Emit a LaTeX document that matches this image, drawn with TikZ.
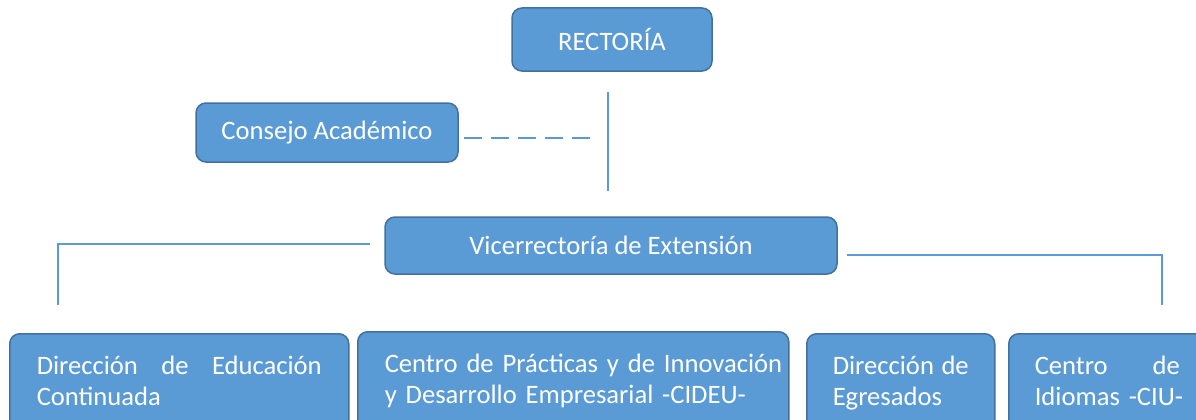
\documentclass[tikz,border=0pt]{standalone}
\usepackage{fontspec}
\setmainfont{Carlito}
\definecolor{boxfill}{HTML}{5B9BD5}
\definecolor{boxborder}{HTML}{41719C}
\definecolor{linkcol}{HTML}{5B9BD5}
\begin{document}
\begin{tikzpicture}[x=1pt,y=-1pt,
  box/.style={draw=boxborder, fill=boxfill, line width=1.5pt, rounded corners=10pt,
    text=white, font=\fontsize{26.6}{31}\selectfont, inner sep=0pt},
  lowbox/.style={box, anchor=north west, align=left, inner xsep=27pt, inner ysep=19.3pt},
  link/.style={draw=linkcol, line width=1.2pt},
  dashlink/.style={link, dash pattern=on 18pt off 9pt}]
\useasboundingbox (0,0) rectangle (1196,420);
\clip (0,0) rectangle (1196,420);
\fill[white] (0,0) rectangle (1196,420);

\node[box, minimum width=200pt, minimum height=63pt] (rect) at (612,39.5) {RECTORÍA};
\node[box, minimum width=262pt, minimum height=59pt] (cons) at (327,132.5) {Consejo Académico};
\node[box, minimum width=452pt, minimum height=57pt] (vice) at (611,245.5) {Vicerrectoría de Extensión};

\node[lowbox, text width=285pt] (dec) at (9,333)
  {\strut\hbox to 285pt{Dirección\hfill de\hfill Educación}\\\mbox{Continuada}\rule[-90pt]{0pt}{0pt}};
\node[lowbox, text width=377pt] (cideu) at (357,331)
  {\strut\hbox to 377pt{Centro de Prácticas y de Innovación\hss}\\\mbox{y Desarrollo Empresarial -CIDEU-}\rule[-90pt]{0pt}{0pt}};
\node[lowbox, text width=136pt, inner xsep=26pt] (egr) at (806,333)
  {\strut\hbox to 136pt{Dirección\hfill de}\\\mbox{Egresados}\rule[-90pt]{0pt}{0pt}};
\node[lowbox, text width=145pt, inner xsep=26pt] (ciu) at (1008,333)
  {\strut\hbox to 145pt{Centro\hfill de}\\\mbox{Idiomas -CIU-}\rule[-90pt]{0pt}{0pt}};

\coordinate (vtop) at (608,92);
\coordinate (vbot) at (608,191);
\coordinate (dstart) at (464,138);
\coordinate (dend) at (590,138);
\coordinate (la) at (370,244);
\coordinate (lb) at (58,244);
\coordinate (lc) at (58,305);
\coordinate (ra) at (847,255);
\coordinate (rb) at (1162,255);
\coordinate (rc) at (1162,305);

\draw[link] (vtop) -- (vbot);
\draw[dashlink] (dstart) -- (dend);
\draw[link] (la) -- (lb) -- (lc);
\draw[link] (ra) -- (rb) -- (rc);
\end{tikzpicture}
\end{document}
